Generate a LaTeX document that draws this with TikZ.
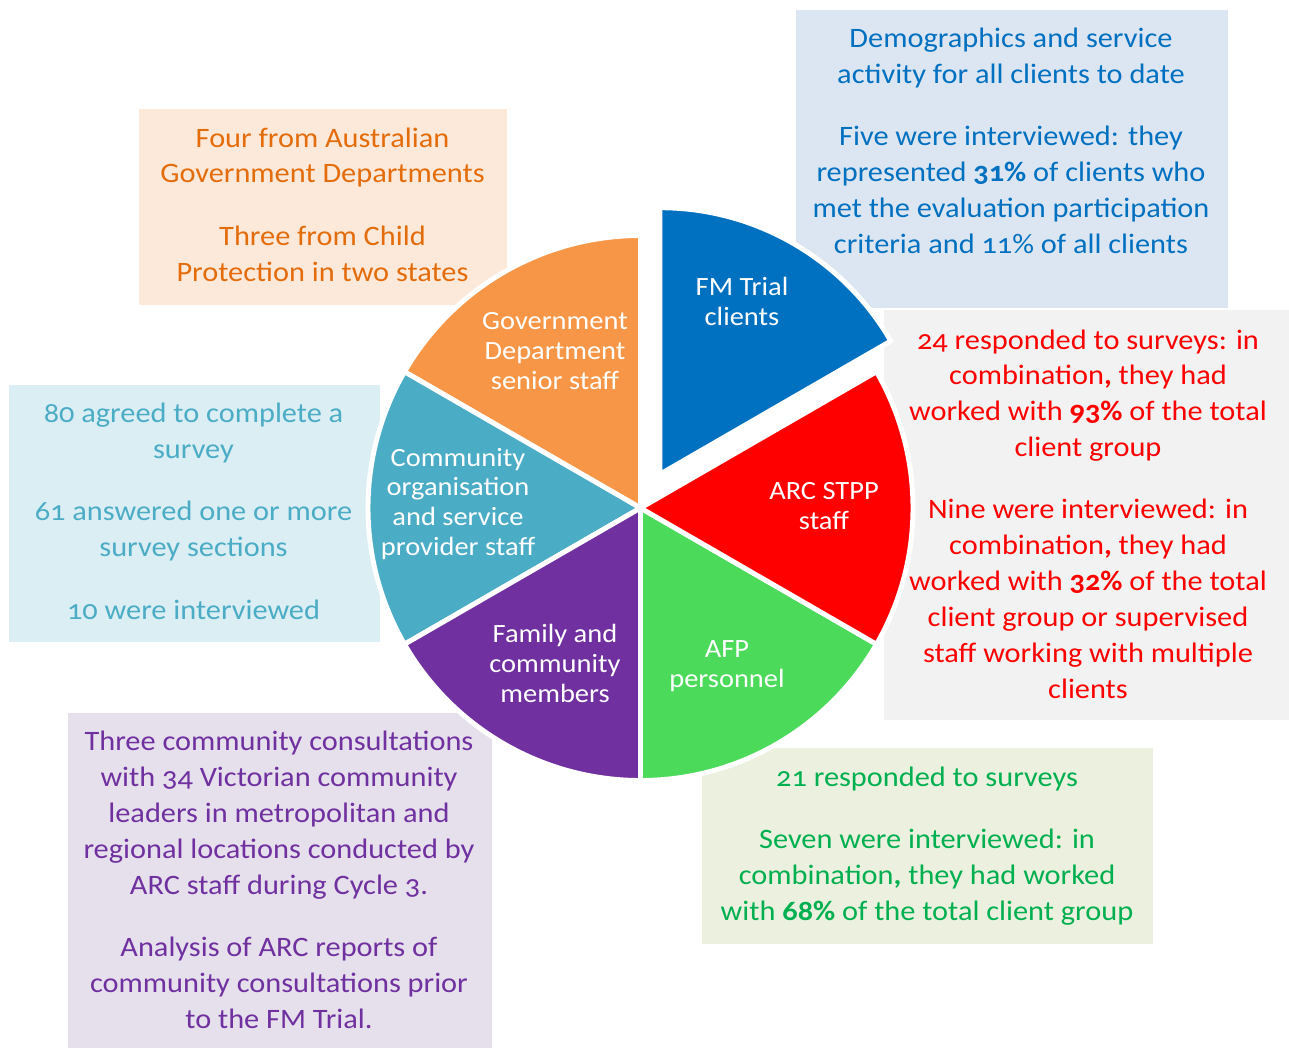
\documentclass[tikz,border=0pt]{standalone}
\usepackage{fontspec}
\setmainfont{Carlito}[Numbers=OldStyle, FakeStretch=1.08]

% slice colours
\definecolor{fmblue}{HTML}{0070C0}
\definecolor{govorange}{HTML}{F79646}
\definecolor{commteal}{HTML}{4BACC6}
\definecolor{famviolet}{HTML}{7030A0}
\definecolor{afpgreen}{RGB}{75,218,90}
\definecolor{arcred}{HTML}{FF0000}
% panel fills and panel text
\definecolor{fmpanel}{HTML}{DCE6F2}
\definecolor{govpanel}{HTML}{FDE9D9}
\definecolor{commpanel}{HTML}{DAEEF3}
\definecolor{fampanel}{HTML}{E5E0EC}
\definecolor{afppanel}{HTML}{EBF1DE}
\definecolor{arcpanel}{HTML}{F2F2F2}
\definecolor{govtext}{HTML}{E46C0A}
\definecolor{afptext}{HTML}{00B050}

% base of a multi-line node sits on its last line
\tikzset{
  wedge/.style={draw=white, line width=2.8pt},
  slicelabel/.style={text=white, align=center, anchor=base, font=\fontsize{15}{16.8}\selectfont},
  boxtext/.style={align=center, anchor=base, font=\fontsize{16}{20.4}\selectfont}
}

\begin{document}
\begin{tikzpicture}[x=0.02cm, y=-0.02cm]
\useasboundingbox (0,0) rectangle (1289,1048);

% text panels behind the pie
\fill[fmpanel] (796,10) rectangle (1228,308);
\fill[govpanel] (139,109) rectangle (507,305);
\fill[commpanel] (9,385) rectangle (380,642);
\fill[fampanel] (68,713) rectangle (492,1048);
\fill[afppanel] (702,748) rectangle (1153,944);
\fill[arcpanel] (884,310) rectangle (1289,720);

% the pie, one slice pulled out
\begin{scope}[shift={(640.5,508)}, yscale=-1]
\foreach \a/\c in {90/govorange, 150/commteal, 210/famviolet, 270/afpgreen, 330/arcred}
    \filldraw[wedge, fill=\c] (0,0) -- (\a:272.5) arc[start angle=\a, delta angle=60, radius=272.5] -- cycle;
\filldraw[wedge, fill=fmblue] (60:39) -- ++(30:266.5) arc[start angle=30, delta angle=60, radius=266.5] -- cycle;
\end{scope}

\node[slicelabel] (fmlbl) at (742,325) {FM Trial\\clients};
\node[slicelabel] (arclbl) at (824,529) {ARC STPP\\staff};
\node[slicelabel] (afplbl) at (727,687) {AFP\\personnel};
\node[slicelabel] (famlbl) at (555,702) {Family and\\community\\members};
\node[slicelabel] (commlbl) at (458,555) {Community\\organisation\\and service\\provider staff};
\node[slicelabel] (govlbl) at (555,389) {Government\\Department\\senior staff};

\node[boxtext, text=fmblue] (fmnote) at (1011,253) {Demographics and service\\activity for all clients to date\\[15pt]Five were interviewed: they\\represented \textbf{31\%} of clients who\\met the evaluation participation\\criteria and 11\% of all clients};
\node[boxtext, text=govtext] (govnote) at (322.5,281) {Four from Australian\\Government Departments\\[15pt]Three from Child\\Protection in two states};
\node[boxtext, text=commteal] (commnote) at (193.5,619) {80 agreed to complete a\\survey\\[15pt]61 answered one or more\\survey sections\\[15pt]10 were interviewed};
\node[boxtext, text=famviolet] (famnote) at (279,1028) {Three community consultations\\with 34 Victorian community\\leaders in metropolitan and\\regional locations conducted by\\ARC staff during Cycle 3.\\[15pt]Analysis of ARC reports of\\community consultations prior\\to the FM Trial.};
\node[boxtext, text=afptext] (afpnote) at (927,920) {21 responded to surveys\\[15pt]Seven were interviewed: in\\combination\textbf{,} they had worked\\with \textbf{68\%} of the total client group};
\node[boxtext, text=arcred] (arcnote) at (1088,698) {24 responded to surveys: in\\combination\textbf{,} they had\\worked with \textbf{93\%} of the total\\client group\\[15pt]Nine were interviewed: in\\combination\textbf{,} they had\\worked with \textbf{32\%} of the total\\client group or supervised\\staff working with multiple\\clients};
\end{tikzpicture}
\end{document}
